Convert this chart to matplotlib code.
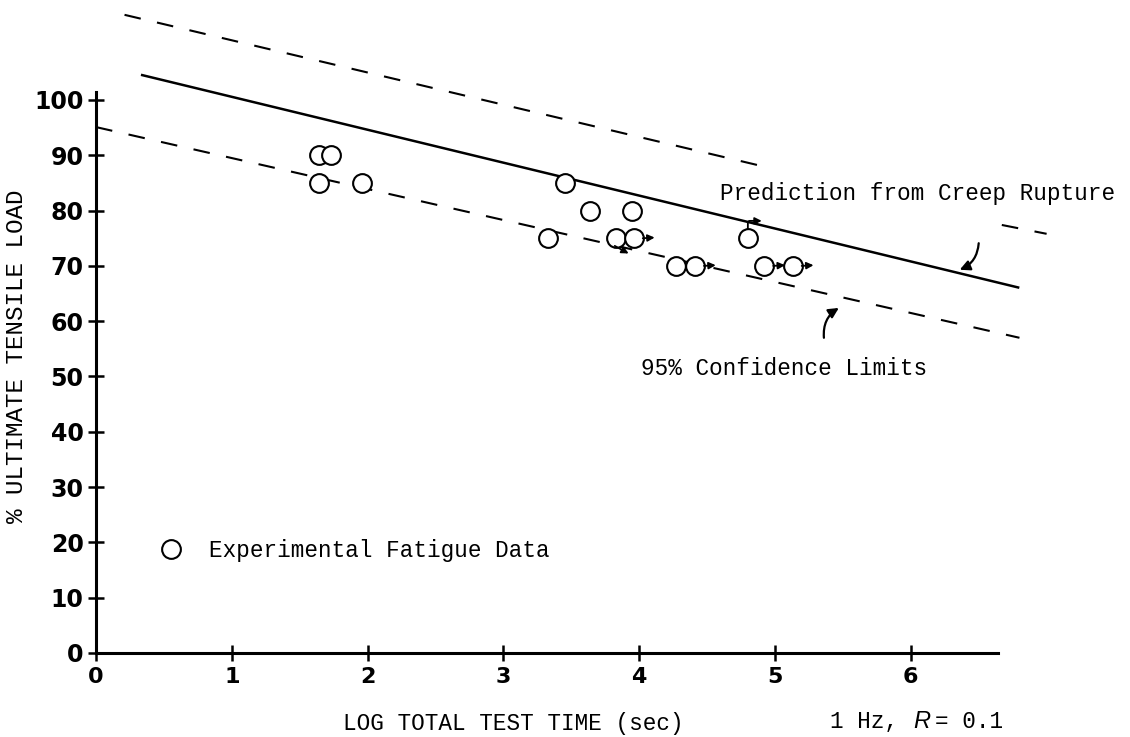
import numpy as np
import matplotlib.pyplot as plt
from matplotlib.lines import Line2D
from matplotlib.transforms import ScaledTranslation

# fatigue tests at 1 Hz, R = 0.1
log_time = [1.64, 1.73, 1.64, 1.96, 3.45, 3.64, 3.95, 3.33, 3.83, 3.96, 4.80, 4.27, 4.41, 4.92, 5.13]
pct_uts = [90, 90, 85, 85, 85, 80, 80, 75, 75, 75, 75, 70, 70, 70, 70]
# runouts, arrow shows the direction the test was still going
runout = ['', '', '', '', '', '', '', '', 'down', 'right', 'up', '', 'right', 'right', 'right']

# creep rupture prediction and its 95% limits (end points)
creep_x = [0.34, 6.79]
creep_y = [104.5, 66.1]
upper_x = [0.21, 4.98]
upper_y = [115.4, 87.6]
upper2_x = [6.67, 7.00]
upper2_y = [77.4, 75.8]
lower_x = [0.0, 6.80]
lower_y = [95.1, 57.0]

xticks = [0, 1, 2, 3, 4, 5, 6]
yticks = [0, 10, 20, 30, 40, 50, 60, 70, 80, 90, 100]

MONO = 'Liberation Mono'

fig = plt.figure(figsize=(11.3, 7.37), dpi=100)
ax = fig.add_axes([0, 0, 1, 1])
ax.set_xlim(-0.707, 7.614)
ax.set_ylim(-15.19, 118.08)

for s in ['top', 'right']:
    ax.spines[s].set_visible(False)
ax.spines['left'].set_position(('data', 0))
ax.spines['bottom'].set_position(('data', 0))
ax.spines['left'].set_bounds(0, 101.5)
ax.spines['bottom'].set_bounds(0, 6.64)
for s in ['left', 'bottom']:
    ax.spines[s].set_linewidth(2.2)

ax.set_xticks(xticks)
ax.set_yticks(yticks)
ax.tick_params(direction='inout', length=12, width=1.8)
ax.tick_params(axis='x', labelsize=16, pad=4)
ax.tick_params(axis='y', labelsize=17, pad=3)
for lab in ax.get_xticklabels() + ax.get_yticklabels():
    lab.set_fontweight('bold')

# lines
ax.plot(creep_x, creep_y, color='k', lw=1.8)
dash = dict(color='k', lw=1.5, dashes=(8, 8))
ax.plot(upper_x, upper_y, **dash)
ax.plot(upper2_x, upper2_y, **dash)
ax.plot(lower_x, lower_y, **dash)

ax.plot(log_time, pct_uts, 'o', ms=13.5, mfc='white', mec='k', mew=1.5, zorder=5)

# runout arrows, offsets in points from the circle centre
arrow_pts = {
    'right': ((6.5, 0), (15, 0.5)),
    'down': ((-1, -5.5), (9, -11)),
    'up': ((0, 6.5), (10, 12.5)),
}
for x, y, r in zip(log_time, pct_uts, runout):
    if not r:
        continue
    p0, p1 = arrow_pts[r]
    t0 = ax.transData + ScaledTranslation(p0[0] / 72, p0[1] / 72, fig.dpi_scale_trans)
    t1 = ax.transData + ScaledTranslation(p1[0] / 72, p1[1] / 72, fig.dpi_scale_trans)
    cs = 'angle,angleA=90,angleB=0,rad=2' if r == 'up' else 'arc3,rad=0'
    ax.annotate('', xy=(x, y), xycoords=t1, xytext=(x, y), textcoords=t0,
                arrowprops=dict(arrowstyle='-|>', color='k', lw=1.3, mutation_scale=10,
                                shrinkA=0, shrinkB=0, connectionstyle=cs), zorder=6)

# labels on the curves
ax.text(4.595, 81.9, 'Prediction from Creep Rupture', family=MONO, fontsize=16.3, va='baseline')
ax.annotate('', xy=(6.36, 69.3), xytext=(6.50, 74.1),
            arrowprops=dict(arrowstyle='-|>', color='k', lw=1.6, mutation_scale=15,
                            shrinkA=0, shrinkB=0, connectionstyle='arc3,rad=-0.3'))
ax.text(4.013, 50.3, '95% Confidence Limits', family=MONO, fontsize=16.3, va='baseline')
ax.annotate('', xy=(5.47, 62.4), xytext=(5.36, 57.0),
            arrowprops=dict(arrowstyle='-|>', color='k', lw=1.6, mutation_scale=15,
                            shrinkA=0, shrinkB=0, connectionstyle='arc3,rad=-0.3'))

handle = Line2D([], [], marker='o', ls='none', ms=13.5, mfc='white', mec='k', mew=1.5)
ax.legend([handle], ['Experimental Fatigue Data'], loc='center left',
          bbox_to_anchor=(159.4 / 1130, 1 - 550 / 737), frameon=False,
          prop={'family': MONO, 'size': 16.3}, handlelength=1.0, handletextpad=1.2,
          borderpad=0, borderaxespad=0)

ax.set_xlabel('LOG TOTAL TEST TIME (sec)', family=MONO, fontsize=16.3)
ax.xaxis.set_label_coords(513 / 1130, 1 - 712 / 737)
ax.set_ylabel('% ULTIMATE TENSILE LOAD', family=MONO, fontsize=17.5)
ax.yaxis.set_label_coords(28 / 1130, 1 - 356.7 / 737)

# test conditions
fig.text(830 / 1130, 1 - 728 / 737, '1 Hz,', family=MONO, fontsize=16.3, va='baseline')
fig.text(913 / 1130, 1 - 728 / 737, 'R', family='Liberation Sans', style='italic',
         fontsize=17, va='baseline')
fig.text(935 / 1130, 1 - 728 / 737, '= 0.1', family=MONO, fontsize=16.3, va='baseline')

fig.savefig('out.png', dpi=100)
